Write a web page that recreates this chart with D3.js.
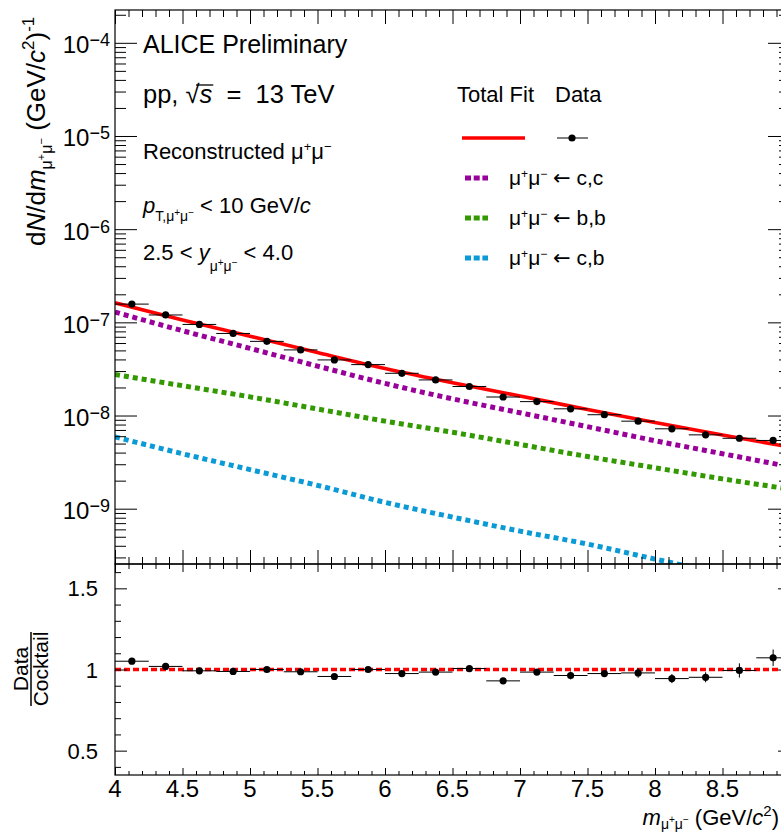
<!DOCTYPE html>
<html><head><meta charset="utf-8">
<script src="https://cdn.jsdelivr.net/npm/d3@7"></script>
<style>
body{margin:0;background:#fff;}
svg{display:block;}
text{font-family:"Liberation Sans",Arial,Helvetica,sans-serif;fill:#000;white-space:pre;}
</style>
</head><body><svg id="c" width="781" height="832"></svg>
<script>
// ---------- data ----------
const binCenters=[4.125,4.375,4.625,4.875,5.125,5.375,5.625,5.875,6.125,6.375,6.625,6.875,7.125,7.375,7.625,7.875,8.125,8.375,8.625,8.875];
const binHalfWidth=0.125;
const dataYield=[1.57e-7,1.20e-7,9.5e-8,7.6e-8,6.25e-8,5.06e-8,3.95e-8,3.52e-8,2.84e-8,2.41e-8,2.05e-8,1.58e-8,1.41e-8,1.18e-8,1.02e-8,8.7e-9,7.2e-9,6.2e-9,5.7e-9,5.4e-9];
const ratioValues=[1.051,1.019,0.992,0.988,1.0,0.986,0.957,1.0,0.975,0.984,1.006,0.930,0.984,0.963,0.975,0.979,0.944,0.952,0.994,1.072];
const ratioErr=[0.008,0.008,0.008,0.009,0.009,0.010,0.010,0.011,0.012,0.013,0.014,0.015,0.018,0.024,0.021,0.030,0.028,0.031,0.044,0.051];
const curveMass=[4,4.5,5,5.5,6,6.5,7,7.5,8,8.5,9];
const totalFit=[1.622e-7,1.061e-7,7.10e-8,4.74e-8,3.20e-8,2.25e-8,1.62e-8,1.16e-8,8.41e-9,6.18e-9,4.58e-9];
const ccbar=[1.288e-7,8.13e-8,5.25e-8,3.39e-8,2.21e-8,1.51e-8,1.07e-8,7.59e-9,5.37e-9,3.89e-9,2.82e-9];
const bbbar=[2.754e-8,2.089e-8,1.585e-8,1.175e-8,8.71e-9,6.61e-9,4.90e-9,3.63e-9,2.75e-9,2.09e-9,1.62e-9];
const cbbar=[5.89e-9,3.89e-9,2.63e-9,1.78e-9,1.17e-9,8.13e-10,5.75e-10,4.17e-10,2.88e-10,2.00e-10,1.38e-10];
const xMajorTicks=[4,4.5,5,5.5,6,6.5,7,7.5,8,8.5,9];
const xTickLabels=["4","4.5","5","5.5","6","6.5","7","7.5","8","8.5","9"];
const yExponents=[-9,-8,-7,-6,-5,-4];
const ratioTicks=[0.5,1,1.5];
const ratioTickLabels=["0.5","1","1.5"];
const components=[
  {name:"c,c",values:ccbar,color:"#990099"},
  {name:"b,b",values:bbbar,color:"#339900"},
  {name:"c,b",values:cbbar,color:"#0a9ad6"}
];

// ---------- layout ----------
const svg=d3.select("#c");
const W=781;
const L=115,R=790,T=10,MID=564,B=775;
const x=d3.scaleLinear().domain([4,9]).range([L,R]);
const y=d3.scaleLog().domain([2.55e-10,2.25e-4]).range([MID,T]);
const yr=d3.scaleLinear().domain([0.35,1.65]).range([B,MID]);

const defs=svg.append("defs");
defs.append("clipPath").attr("id","clipTop")
  .append("rect").attr("x",L).attr("y",T).attr("width",R-L).attr("height",MID-T);
defs.append("clipPath").attr("id","clipBot")
  .append("rect").attr("x",L).attr("y",MID).attr("width",R-L).attr("height",B-MID);

function rich(sel,parts){
  let cur=0;
  parts.forEach(p=>{
    const target=p.sup?-p.shift:(p.sub?p.shift:0);
    const ts=sel.append("tspan").text(p.t).attr("dy",target-cur);
    cur=target;
    if(p.it) ts.attr("font-style","italic");
    if(p.fs) ts.attr("font-size",p.fs);
    if(p.ff) ts.attr("font-family",p.ff);
  });
  return sel;
}

// ---------- curves (upper) ----------
const gTop=svg.append("g").attr("clip-path","url(#clipTop)");
const line=d3.line().x(d=>x(d[0])).y(d=>y(d[1])).curve(d3.curveMonotoneX);
components.forEach(c=>{
  gTop.append("path").datum(curveMass.map((m,i)=>[m,c.values[i]]))
    .attr("d",line).attr("fill","none").attr("stroke",c.color)
    .attr("stroke-width",5).attr("stroke-dasharray","5,4");
});
gTop.append("path").datum(curveMass.map((m,i)=>[m,totalFit[i]]))
  .attr("d",line).attr("fill","none").attr("stroke","#ff0000").attr("stroke-width",3.6);

binCenters.forEach((m,i)=>{
  const v=dataYield[i], e=v*ratioErr[i];
  gTop.append("line").attr("x1",x(m-binHalfWidth)).attr("x2",x(m+binHalfWidth))
    .attr("y1",y(v)).attr("y2",y(v)).attr("stroke","#000").attr("stroke-width",1);
  gTop.append("line").attr("x1",x(m)).attr("x2",x(m))
    .attr("y1",y(v-e)).attr("y2",y(v+e)).attr("stroke","#000").attr("stroke-width",1);
  gTop.append("circle").attr("cx",x(m)).attr("cy",y(v)).attr("r",3.6).attr("fill","#000");
});

// ---------- lower panel ----------
const gBot=svg.append("g").attr("clip-path","url(#clipBot)");
gBot.append("line").attr("x1",x(4)).attr("x2",x(9)).attr("y1",yr(1)).attr("y2",yr(1))
  .attr("stroke","#ff0000").attr("stroke-width",3.4).attr("stroke-dasharray","6,3");
binCenters.forEach((m,i)=>{
  const v=ratioValues[i], e=ratioErr[i];
  gBot.append("line").attr("x1",x(m-binHalfWidth)).attr("x2",x(m+binHalfWidth))
    .attr("y1",yr(v)).attr("y2",yr(v)).attr("stroke","#000").attr("stroke-width",1);
  gBot.append("line").attr("x1",x(m)).attr("x2",x(m))
    .attr("y1",yr(v-e)).attr("y2",yr(v+e)).attr("stroke","#000").attr("stroke-width",1);
  gBot.append("circle").attr("cx",x(m)).attr("cy",yr(v)).attr("r",3.6).attr("fill","#000");
});

// ---------- axes / frames ----------
const xMinor=d3.range(40,91).map(d=>d/10).filter(d=>!xMajorTicks.includes(d));
const yMinor=[];
for(let e=-10;e<=-4;e++) for(let k=2;k<=9;k++){const v=k*Math.pow(10,e); if(v>=2.55e-10&&v<=2.25e-4) yMinor.push(v);}
const yMajor=yExponents.map(e=>Math.pow(10,e));
const rMinor=d3.range(4,17).map(d=>d/10).filter(d=>!ratioTicks.includes(d));

function ax(gen,scale,vals,size,tx,ty){
  const g=svg.append("g").attr("transform",`translate(${tx},${ty})`)
    .call(gen(scale).tickValues(vals).tickSize(size).tickFormat(""));
  g.select(".domain").remove();
  g.selectAll("line").attr("stroke","#000").attr("stroke-width",1);
}
ax(d3.axisLeft,y,yMajor,-22,L,0); ax(d3.axisLeft,y,yMinor,-11,L,0);
ax(d3.axisRight,y,yMajor,-22,R,0); ax(d3.axisRight,y,yMinor,-11,R,0);
ax(d3.axisTop,x,xMajorTicks,-14,0,T); ax(d3.axisTop,x,xMinor,-7,0,T);
ax(d3.axisBottom,x,xMajorTicks,-14,0,MID); ax(d3.axisBottom,x,xMinor,-7,0,MID);
ax(d3.axisTop,x,xMajorTicks,-8,0,MID); ax(d3.axisTop,x,xMinor,-5,0,MID);
ax(d3.axisBottom,x,xMajorTicks,-7,0,B); ax(d3.axisBottom,x,xMinor,-4,0,B);
ax(d3.axisLeft,yr,ratioTicks,-12,L,0); ax(d3.axisLeft,yr,rMinor,-6,L,0);
ax(d3.axisRight,yr,ratioTicks,-12,R,0); ax(d3.axisRight,yr,rMinor,-6,R,0);

svg.append("rect").attr("x",L).attr("y",T).attr("width",R-L).attr("height",MID-T)
  .attr("fill","none").attr("stroke","#000").attr("stroke-width",1.2);
svg.append("rect").attr("x",L).attr("y",MID).attr("width",R-L).attr("height",B-MID)
  .attr("fill","none").attr("stroke","#000").attr("stroke-width",1.2);

// tick labels
yExponents.forEach((e,i)=>{
  const t=svg.append("text").attr("x",110).attr("y",y(yMajor[i])+10.5)
    .attr("text-anchor","end").attr("font-size",24);
  t.append("tspan").text("10");
  t.append("tspan").text("\u2212"+Math.abs(e)).attr("font-size",18).attr("dy",-7);
});
ratioTicks.forEach((v,i)=>{
  svg.append("text").attr("x",98).attr("y",yr(v)+8).attr("text-anchor","end")
    .attr("font-size",22).text(ratioTickLabels[i]);
});
xMajorTicks.forEach((v,i)=>{
  if(x(v)+8>W) return; // label falls outside the visible picture (as in the reference crop)
  svg.append("text").attr("x",x(v)).attr("y",797).attr("text-anchor","middle")
    .attr("font-size",24).text(xTickLabels[i]);
});

// axis titles
const mu="\u03bc";
rich(svg.append("text").attr("x",779).attr("y",825).attr("text-anchor","end").attr("font-size",22),[
  {t:"m",it:true},{t:mu,sub:true,shift:4,fs:14},{t:"+",sup:true,shift:2,fs:10},{t:mu,sub:true,shift:4,fs:14},{t:"\u2212",sup:true,shift:2,fs:10},
  {t:" (GeV/"},{t:"c",it:true},{t:"2",sup:true,shift:9,fs:15},{t:")"}
]);
const gyt=svg.append("g").attr("transform","translate(45,246) rotate(-90)");
rich(gyt.append("text").attr("font-size",26),[
  {t:"d"},{t:"N",it:true},{t:"/d"},{t:"m",it:true},{t:mu,sub:true,shift:7,fs:16},{t:"+",sup:true,shift:0,fs:11},{t:mu,sub:true,shift:7,fs:16},{t:"\u2212",sup:true,shift:0,fs:11},
  {t:" (GeV/"},{t:"c",it:true},{t:"2",sup:true,shift:11,fs:17},{t:")"},{t:"-1",sup:true,shift:11,fs:17}
]);
const gr=svg.append("g").attr("transform","translate(0,669) rotate(-90)");
gr.append("text").attr("x",0).attr("y",28).attr("text-anchor","middle").attr("font-size",21).text("Data");
gr.append("text").attr("x",0).attr("y",48).attr("text-anchor","middle").attr("font-size",21).text("Cocktail");
gr.append("line").attr("x1",-37).attr("x2",37).attr("y1",31).attr("y2",31).attr("stroke","#000").attr("stroke-width",1.5);

// annotations
svg.append("text").attr("x",143).attr("y",53).attr("font-size",25).text("ALICE Preliminary");
const pp=svg.append("text").attr("x",143).attr("y",103).attr("font-size",25.5);
rich(pp,[{t:"pp, \u221a"},{t:"s",it:true},{t:"  =  13 TeV"}]);
{
  const n=pp.node();
  const es=n.getExtentOfChar(5), er=n.getExtentOfChar(4);
  svg.append("line").attr("x1",er.x+er.width*0.75).attr("x2",es.x+es.width+1)
    .attr("y1",85).attr("y2",85).attr("stroke","#000").attr("stroke-width",1.3);
}
rich(svg.append("text").attr("x",143).attr("y",159).attr("font-size",22),[
  {t:"Reconstructed "},{t:mu},{t:"+",sup:true,shift:8,fs:13},{t:mu},{t:"\u2212",sup:true,shift:8,fs:13}
]);
rich(svg.append("text").attr("x",143).attr("y",213).attr("font-size",22),[
  {t:"p",it:true},{t:"T,"+mu,sub:true,shift:8,fs:14},{t:"+",sub:true,shift:3,fs:10},{t:mu,sub:true,shift:8,fs:14},{t:"\u2212",sub:true,shift:3,fs:10},
  {t:" < 10 GeV/"},{t:"c",it:true}
]);
rich(svg.append("text").attr("x",143).attr("y",260).attr("font-size",22),[
  {t:"2.5 < "},{t:"y",it:true},{t:mu,sub:true,shift:11,fs:14},{t:"+",sub:true,shift:6,fs:10},{t:mu,sub:true,shift:11,fs:14},{t:"\u2212",sub:true,shift:6,fs:10},
  {t:" < 4.0"}
]);

// legend
svg.append("text").attr("x",457).attr("y",102).attr("font-size",22).text("Total Fit");
svg.append("text").attr("x",555).attr("y",102).attr("font-size",22).text("Data");
svg.append("line").attr("x1",462).attr("x2",525).attr("y1",138).attr("y2",138)
  .attr("stroke","#ff0000").attr("stroke-width",3.6);
svg.append("line").attr("x1",557).attr("x2",588).attr("y1",138).attr("y2",138)
  .attr("stroke","#000").attr("stroke-width",1);
svg.append("circle").attr("cx",572).attr("cy",138).attr("r",3.6).attr("fill","#000");
components.forEach((c,i)=>{
  const yy=178+40*i;
  svg.append("line").attr("x1",465).attr("x2",488).attr("y1",yy).attr("y2",yy)
    .attr("stroke",c.color).attr("stroke-width",5).attr("stroke-dasharray","6,2.7");
  rich(svg.append("text").attr("x",509).attr("y",yy+7).attr("font-size",21),[
    {t:mu},{t:"+",sup:true,shift:7,fs:12},{t:mu},{t:"\u2212",sup:true,shift:7,fs:12},{t:" "},
    {t:"\u2190",ff:"DejaVu Sans"},{t:" "+c.name}
  ]);
});
</script>
</body></html>
